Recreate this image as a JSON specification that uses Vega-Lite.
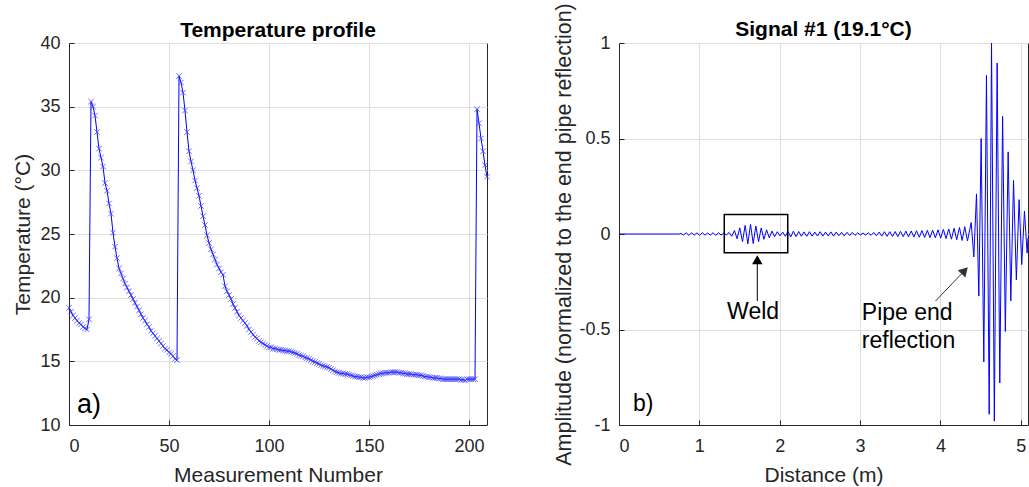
{
  "$schema": "https://vega.github.io/schema/vega-lite/v6.json",
  "padding": {"left": 12, "top": 2, "right": 0, "bottom": 0},
  "background": "white",
  "spacing": 60,
  "config": {
    "font": "Liberation Sans",
    "view": {"stroke": "#262626", "strokeWidth": 1},
    "axis": {
      "grid": true, "gridColor": "#dedede", "gridWidth": 1,
      "domainColor": "#262626", "domainWidth": 1,
      "tickColor": "#262626", "tickSize": -5, "tickWidth": 1,
      "labelFontSize": 18, "labelColor": "#262626",
      "titleFontSize": 21, "titleFontWeight": "normal", "titleColor": "#262626"
    },
    "axisX": {"labelPadding": 17, "titlePadding": 9},
    "axisY": {"labelPadding": 14, "titlePadding": 3},
    "title": {"fontSize": 21, "fontWeight": "bold", "color": "#000000"}
  },
  "datasets": {
    "temp": [
      {"n":0,"T":19.2},{"n":1,"T":18.9},{"n":2,"T":18.6},{"n":3,"T":18.4},{"n":4,"T":18.2},{"n":5,"T":18.0},{"n":6,"T":17.9},{"n":7,"T":17.7},{"n":8,"T":17.6},{"n":9,"T":17.5},
      {"n":10,"T":18.3},{"n":11,"T":35.4},{"n":12,"T":35.0},{"n":13,"T":34.3},{"n":14,"T":33.0},{"n":15,"T":31.7},{"n":16,"T":31.0},{"n":17,"T":30.3},{"n":18,"T":29.0},{"n":19,"T":28.4},
      {"n":20,"T":27.4},{"n":21,"T":26.6},{"n":22,"T":25.1},{"n":23,"T":24.0},{"n":24,"T":23.1},{"n":25,"T":22.3},{"n":26,"T":21.9},{"n":27,"T":21.5},{"n":28,"T":21.1},{"n":29,"T":20.8},
      {"n":30,"T":20.5},{"n":31,"T":20.2},{"n":32,"T":19.9},{"n":33,"T":19.6},{"n":34,"T":19.3},{"n":35,"T":19.0},{"n":36,"T":18.7},{"n":37,"T":18.4},{"n":38,"T":18.2},{"n":39,"T":17.9},
      {"n":40,"T":17.7},{"n":41,"T":17.4},{"n":42,"T":17.2},{"n":43,"T":17.0},{"n":44,"T":16.8},{"n":45,"T":16.6},{"n":46,"T":16.4},{"n":47,"T":16.2},{"n":48,"T":16.0},{"n":49,"T":15.9},
      {"n":50,"T":15.7},{"n":51,"T":15.6},{"n":52,"T":15.4},{"n":53,"T":15.2},{"n":54,"T":15.1},{"n":55,"T":37.4},{"n":56,"T":36.9},{"n":57,"T":36.1},{"n":58,"T":34.7},{"n":59,"T":33.0},
      {"n":60,"T":31.5},{"n":61,"T":30.7},{"n":62,"T":30.0},{"n":63,"T":29.2},{"n":64,"T":28.6},{"n":65,"T":28.0},{"n":66,"T":27.2},{"n":67,"T":26.4},{"n":68,"T":25.7},{"n":69,"T":24.9},
      {"n":70,"T":24.3},{"n":71,"T":23.8},{"n":72,"T":23.4},{"n":73,"T":23.0},{"n":74,"T":22.6},{"n":75,"T":22.3},{"n":76,"T":22.0},{"n":77,"T":21.8},{"n":78,"T":20.9},{"n":79,"T":20.5},
      {"n":80,"T":20.2},{"n":81,"T":19.9},{"n":82,"T":19.5},{"n":83,"T":19.2},{"n":84,"T":18.9},{"n":85,"T":18.6},{"n":86,"T":18.4},{"n":87,"T":18.2},{"n":88,"T":18.0},{"n":89,"T":17.8},
      {"n":90,"T":17.5},{"n":91,"T":17.3},{"n":92,"T":17.1},{"n":93,"T":16.9},{"n":94,"T":16.8},{"n":95,"T":16.6},{"n":96,"T":16.5},{"n":97,"T":16.4},{"n":98,"T":16.3},{"n":99,"T":16.2},
      {"n":100,"T":16.1},{"n":101,"T":16.1},{"n":102,"T":16.0},{"n":103,"T":16.0},{"n":104,"T":15.95},{"n":105,"T":15.9},{"n":106,"T":15.9},{"n":107,"T":15.85},{"n":108,"T":15.85},{"n":109,"T":15.8},
      {"n":110,"T":15.8},{"n":111,"T":15.75},{"n":112,"T":15.7},{"n":113,"T":15.65},{"n":114,"T":15.6},{"n":115,"T":15.5},{"n":116,"T":15.45},{"n":117,"T":15.4},{"n":118,"T":15.3},{"n":119,"T":15.25},
      {"n":120,"T":15.2},{"n":121,"T":15.1},{"n":122,"T":15.0},{"n":123,"T":14.95},{"n":124,"T":14.85},{"n":125,"T":14.8},{"n":126,"T":14.7},{"n":127,"T":14.65},{"n":128,"T":14.6},{"n":129,"T":14.55},
      {"n":130,"T":14.5},{"n":131,"T":14.4},{"n":132,"T":14.3},{"n":133,"T":14.2},{"n":134,"T":14.15},{"n":135,"T":14.1},{"n":136,"T":14.05},{"n":137,"T":14.05},{"n":138,"T":14.0},{"n":139,"T":14.0},
      {"n":140,"T":13.95},{"n":141,"T":13.9},{"n":142,"T":13.85},{"n":143,"T":13.8},{"n":144,"T":13.8},{"n":145,"T":13.75},{"n":146,"T":13.75},{"n":147,"T":13.7},{"n":148,"T":13.7},{"n":149,"T":13.75},
      {"n":150,"T":13.75},{"n":151,"T":13.8},{"n":152,"T":13.85},{"n":153,"T":13.9},{"n":154,"T":13.95},{"n":155,"T":14.0},{"n":156,"T":14.05},{"n":157,"T":14.05},{"n":158,"T":14.1},{"n":159,"T":14.1},
      {"n":160,"T":14.1},{"n":161,"T":14.15},{"n":162,"T":14.15},{"n":163,"T":14.15},{"n":164,"T":14.15},{"n":165,"T":14.1},{"n":166,"T":14.1},{"n":167,"T":14.05},{"n":168,"T":14.05},{"n":169,"T":14.0},
      {"n":170,"T":14.0},{"n":171,"T":14.0},{"n":172,"T":13.95},{"n":173,"T":13.95},{"n":174,"T":13.95},{"n":175,"T":13.9},{"n":176,"T":13.9},{"n":177,"T":13.85},{"n":178,"T":13.8},{"n":179,"T":13.8},
      {"n":180,"T":13.75},{"n":181,"T":13.75},{"n":182,"T":13.7},{"n":183,"T":13.7},{"n":184,"T":13.7},{"n":185,"T":13.65},{"n":186,"T":13.65},{"n":187,"T":13.6},{"n":188,"T":13.6},{"n":189,"T":13.6},
      {"n":190,"T":13.6},{"n":191,"T":13.6},{"n":192,"T":13.6},{"n":193,"T":13.6},{"n":194,"T":13.6},{"n":195,"T":13.6},{"n":196,"T":13.55},{"n":197,"T":13.55},{"n":198,"T":13.5},{"n":199,"T":13.6},
      {"n":200,"T":13.6},{"n":201,"T":13.6},{"n":202,"T":13.6},{"n":203,"T":13.6},{"n":204,"T":34.8},{"n":205,"T":33.7},{"n":206,"T":32.5},{"n":207,"T":31.5},{"n":208,"T":30.4},{"n":209,"T":29.5}
    ],
    "panelA": [{"n": 4, "T": 11.55, "label": "a)"}],
    "signal": [
      {"d":0,"a":0},{"d":0.75,"a":0},
      {"d":0.770,"a":0.003},{"d":0.803,"a":-0.005},{"d":0.837,"a":0.006},{"d":0.870,"a":-0.007},{"d":0.903,"a":0.007},{"d":0.937,"a":-0.006},{"d":0.970,"a":0.006},{"d":1.003,"a":-0.007},
      {"d":1.037,"a":0.007},{"d":1.070,"a":-0.006},{"d":1.103,"a":0.005},{"d":1.137,"a":-0.006},{"d":1.170,"a":0.007},{"d":1.203,"a":-0.007},{"d":1.237,"a":0.006},{"d":1.270,"a":-0.005},
      {"d":1.303,"a":0.004},{"d":1.337,"a":-0.005},{"d":1.370,"a":0.008},{"d":1.403,"a":-0.012},{"d":1.437,"a":0.018},{"d":1.470,"a":-0.025},{"d":1.503,"a":0.032},{"d":1.537,"a":-0.040},
      {"d":1.570,"a":0.045},{"d":1.603,"a":-0.052},{"d":1.637,"a":0.050},{"d":1.670,"a":-0.050},{"d":1.703,"a":0.042},{"d":1.737,"a":-0.040},{"d":1.770,"a":0.032},{"d":1.803,"a":-0.028},
      {"d":1.837,"a":0.022},{"d":1.870,"a":-0.020},{"d":1.903,"a":0.015},{"d":1.937,"a":-0.014},{"d":1.970,"a":0.012},{"d":2.003,"a":-0.010},{"d":2.037,"a":0.010},{"d":2.070,"a":-0.012},
      {"d":2.103,"a":0.014},{"d":2.137,"a":-0.016},{"d":2.170,"a":0.015},{"d":2.203,"a":-0.014},{"d":2.237,"a":0.013},{"d":2.270,"a":-0.012},{"d":2.303,"a":0.011},{"d":2.337,"a":-0.012},
      {"d":2.370,"a":0.012},{"d":2.403,"a":-0.011},{"d":2.437,"a":0.010},{"d":2.470,"a":-0.011},{"d":2.503,"a":0.012},{"d":2.537,"a":-0.011},{"d":2.570,"a":0.010},{"d":2.603,"a":-0.010},
      {"d":2.637,"a":0.011},{"d":2.670,"a":-0.011},{"d":2.703,"a":0.010},{"d":2.737,"a":-0.009},{"d":2.770,"a":0.009},{"d":2.803,"a":-0.010},{"d":2.837,"a":0.009},{"d":2.870,"a":-0.008},
      {"d":2.903,"a":0.008},{"d":2.937,"a":-0.007},{"d":2.970,"a":0.006},{"d":3.003,"a":-0.005},{"d":3.037,"a":0.005},{"d":3.070,"a":-0.005},{"d":3.103,"a":0.006},{"d":3.137,"a":-0.007},
      {"d":3.170,"a":0.008},{"d":3.203,"a":-0.009},{"d":3.237,"a":0.010},{"d":3.270,"a":-0.011},{"d":3.303,"a":0.012},{"d":3.337,"a":-0.012},{"d":3.370,"a":0.012},{"d":3.403,"a":-0.013},
      {"d":3.437,"a":0.013},{"d":3.470,"a":-0.014},{"d":3.503,"a":0.014},{"d":3.537,"a":-0.014},{"d":3.570,"a":0.015},{"d":3.603,"a":-0.015},{"d":3.637,"a":0.016},{"d":3.670,"a":-0.016},
      {"d":3.703,"a":0.017},{"d":3.737,"a":-0.017},{"d":3.770,"a":0.018},{"d":3.803,"a":-0.018},{"d":3.837,"a":0.019},{"d":3.870,"a":-0.019},{"d":3.903,"a":0.020},{"d":3.937,"a":-0.020},
      {"d":3.970,"a":0.022},{"d":4.003,"a":-0.022},{"d":4.037,"a":0.024},{"d":4.070,"a":-0.024},{"d":4.103,"a":0.026},{"d":4.137,"a":-0.027},{"d":4.170,"a":0.030},{"d":4.203,"a":-0.030},
      {"d":4.237,"a":0.034},{"d":4.270,"a":-0.034},{"d":4.303,"a":0.038},{"d":4.337,"a":-0.036},
      {"d":4.383,"a":0.06},{"d":4.416,"a":-0.12},{"d":4.449,"a":0.21},{"d":4.478,"a":-0.325},{"d":4.507,"a":0.50},{"d":4.540,"a":-0.67},{"d":4.573,"a":0.83},{"d":4.607,"a":-0.944},
      {"d":4.636,"a":1.0},{"d":4.671,"a":-0.98},{"d":4.706,"a":0.895},{"d":4.739,"a":-0.78},{"d":4.774,"a":0.616},{"d":4.808,"a":-0.51},{"d":4.843,"a":0.43},{"d":4.876,"a":-0.35},
      {"d":4.910,"a":0.28},{"d":4.945,"a":-0.24},{"d":4.979,"a":0.18},{"d":5.012,"a":-0.16},{"d":5.046,"a":0.12},{"d":5.079,"a":-0.10},{"d":5.090,"a":-0.02}
    ],
    "weldBox": [{"d": 1.31, "d2": 2.10, "a": 0.102, "a2": -0.098}],
    "arrowLines": [
      {"name": "weld", "d": 1.721, "a": -0.139, "d2": 1.721, "a2": -0.351},
      {"name": "pipe", "d": 3.939, "a": -0.351, "d2": 4.302, "a2": -0.191}
    ],
    "arrowHeads": [
      {"name": "weld", "d": 1.721, "a": -0.135, "angle": 0},
      {"name": "pipe", "d": 4.302, "a": -0.191, "angle": 43.6}
    ],
    "notes": [
      {"d": 1.669, "a": -0.41, "label": "Weld"},
      {"d": 3.587, "a": -0.415, "label": "Pipe end"},
      {"d": 3.603, "a": -0.561, "label": "reflection"},
      {"d": 0.30, "a": -0.892, "label": "b)"}
    ]
  },
  "hconcat": [
    {
      "width": 418,
      "height": 382,
      "title": {"text": "Temperature profile", "offset": -7},
      "layer": [
        {
          "data": {"name": "temp"},
          "mark": {"type": "line", "color": "#0000ff", "strokeWidth": 1},
          "encoding": {
            "x": {"field": "n", "type": "quantitative", "scale": {"domain": [0, 209], "nice": false, "zero": false},
                  "axis": {"values": [0, 50, 100, 150, 200], "title": "Measurement Number"}},
            "y": {"field": "T", "type": "quantitative", "scale": {"domain": [10, 40], "nice": false, "zero": false},
                  "axis": {"values": [10, 15, 20, 25, 30, 35, 40], "titlePadding": 6, "title": "Temperature (°C)"}}
          }
        },
        {
          "data": {"name": "temp"},
          "mark": {"type": "point", "shape": "M-1,-1L1,1M-1,1L1,-1", "size": 30, "filled": false, "stroke": "#3a3aff", "strokeWidth": 1, "opacity": 0.75},
          "encoding": {
            "x": {"field": "n", "type": "quantitative"},
            "y": {"field": "T", "type": "quantitative"}
          }
        },
        {
          "data": {"name": "panelA"},
          "mark": {"type": "text", "fontSize": 27, "align": "left", "baseline": "middle", "color": "#000000"},
          "encoding": {
            "x": {"field": "n", "type": "quantitative"},
            "y": {"field": "T", "type": "quantitative"},
            "text": {"field": "label"}
          }
        }
      ]
    },
    {
      "width": 409,
      "height": 382,
      "title": {"text": "Signal #1 (19.1°C)", "offset": -37},
      "layer": [
        {
          "data": {"name": "signal"},
          "mark": {"type": "line", "color": "#0000ff", "strokeWidth": 1, "clip": true},
          "encoding": {
            "x": {"field": "d", "type": "quantitative", "scale": {"domain": [0, 5.09], "nice": false, "zero": false},
                  "axis": {"values": [0, 1, 2, 3, 4, 5], "labelExpr": "'' + datum.value", "title": "Distance (m)"}},
            "y": {"field": "a", "type": "quantitative", "scale": {"domain": [-1, 1], "nice": false, "zero": false},
                  "axis": {"values": [-1, -0.5, 0, 0.5, 1], "labelExpr": "'' + datum.value", "titleFontSize": 21.5, "title": "Amplitude (normalized to the end pipe reflection)"}}
          }
        },
        {
          "data": {"name": "weldBox"},
          "mark": {"type": "rect", "fill": null, "fillOpacity": 0, "stroke": "#000000", "strokeWidth": 1.5},
          "encoding": {
            "x": {"field": "d", "type": "quantitative"},
            "x2": {"field": "d2"},
            "y": {"field": "a", "type": "quantitative"},
            "y2": {"field": "a2"}
          }
        },
        {
          "data": {"name": "arrowLines"},
          "mark": {"type": "rule", "strokeWidth": 1},
          "encoding": {
            "x": {"field": "d", "type": "quantitative"},
            "x2": {"field": "d2"},
            "y": {"field": "a", "type": "quantitative"},
            "y2": {"field": "a2"},
            "color": {"field": "name", "type": "nominal", "scale": {"domain": ["weld", "pipe"], "range": ["#000000", "#333333"]}, "legend": null}
          }
        },
        {
          "data": {"name": "arrowHeads"},
          "mark": {"type": "point", "shape": "triangle-up", "size": 110, "filled": true, "opacity": 1},
          "encoding": {
            "x": {"field": "d", "type": "quantitative"},
            "y": {"field": "a", "type": "quantitative"},
            "angle": {"field": "angle", "type": "quantitative", "scale": null},
            "color": {"field": "name", "type": "nominal", "scale": {"domain": ["weld", "pipe"], "range": ["#000000", "#333333"]}, "legend": null}
          }
        },
        {
          "data": {"name": "notes"},
          "mark": {"type": "text", "fontSize": 23, "align": "center", "baseline": "middle", "color": "#000000"},
          "encoding": {
            "x": {"field": "d", "type": "quantitative"},
            "y": {"field": "a", "type": "quantitative"},
            "text": {"field": "label"}
          }
        }
      ]
    }
  ]
}
